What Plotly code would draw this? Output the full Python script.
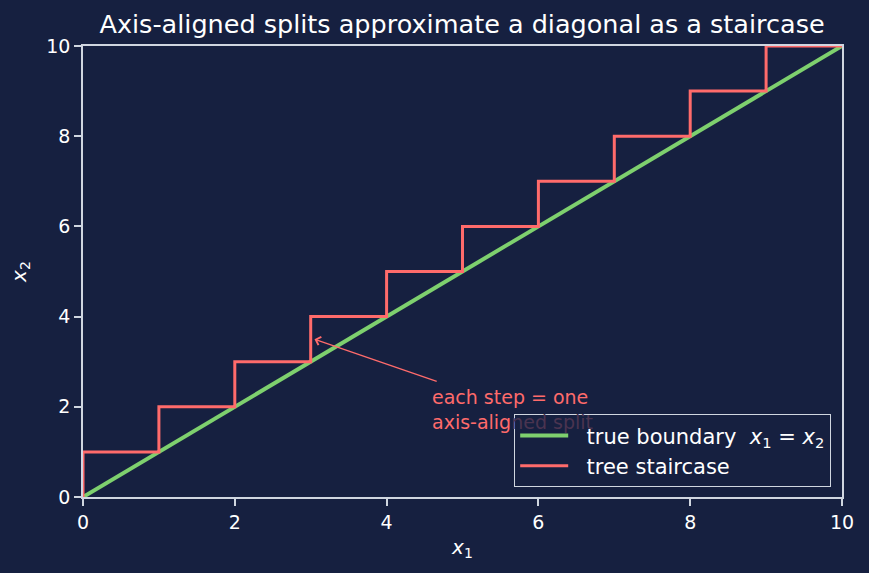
import plotly.graph_objects as go

# Data
diag_x = [0, 10]
diag_y = [0, 10]
stair_x = [0, 0, 1, 1, 2, 2, 3, 3, 4, 4, 5, 5, 6, 6, 7, 7, 8, 8, 9, 9, 10]
stair_y = [0, 1, 1, 2, 2, 3, 3, 4, 4, 5, 5, 6, 6, 7, 7, 8, 8, 9, 9, 10, 10]
tick_vals = [0, 2, 4, 6, 8, 10]
arrow_head = (3.05, 3.5)
arrow_tail = (4.68, 2.55)
note_pos = (4.575, 2.5)

BG = "#162040"
FG = "#ffffff"
SPINE = "#d0d6e0"
RED = "#ff6b6b"
RED_DIM = "#4a3450"
GREEN = "#7ed06e"
FONT = "DejaVu Sans"
PAD = "\u00a0\u00a0"

fig = go.Figure()
fig.add_trace(go.Scatter(x=diag_x, y=diag_y, mode="lines",
                         line=dict(color=GREEN, width=4),
                         name=PAD + "true boundary  <i>x</i><sub>1</sub> = <i>x</i><sub>2</sub>"))
fig.add_trace(go.Scatter(x=stair_x, y=stair_y, mode="lines",
                         line=dict(color=RED, width=3),
                         name=PAD + "tree staircase"))

fig.add_annotation(x=arrow_head[0], y=arrow_head[1], ax=arrow_tail[0], ay=arrow_tail[1],
                   axref="x", ayref="y", xref="x", yref="y", text="",
                   showarrow=True, arrowhead=4, arrowsize=1.3, arrowwidth=1.3,
                   arrowcolor=RED)
fig.add_annotation(x=note_pos[0], y=note_pos[1], xref="x", yref="y",
                   text=("each step = one<br>axis-alig"
                         f"<span style='color:{RED_DIM}'>ned split</span>"),
                   showarrow=False,
                   xanchor="left", yanchor="top", align="left",
                   font=dict(family=FONT, size=19, color=RED))

axis_common = dict(range=[0, 10], tickvals=tick_vals, showgrid=False, zeroline=False,
                   showline=True, linecolor=SPINE, linewidth=1.5, mirror=True,
                   ticks="outside", ticklen=7, tickwidth=1.5, tickcolor=SPINE,
                   tickfont=dict(family=FONT, size=19, color=FG))
fig.update_xaxes(**axis_common,
                 title=dict(text="<i>x</i><sub>1</sub>", font=dict(family=FONT, size=20, color=FG),
                            standoff=8))
fig.update_yaxes(**axis_common,
                 title=dict(text="<i>x</i><sub>2</sub>", font=dict(family=FONT, size=20, color=FG),
                            standoff=14))

fig.update_layout(
    width=869, height=573,
    paper_bgcolor=BG, plot_bgcolor=BG,
    margin=dict(l=83, r=27, t=46, b=76),
    font=dict(family=FONT, color=FG),
    title=dict(text="Axis-aligned splits approximate a diagonal as a staircase",
               x=0.5317, xanchor="center", y=0.958, yanchor="middle",
               font=dict(family=FONT, size=25.5, color=FG)),
    legend=dict(x=0.9855, y=0.022, xanchor="right", yanchor="bottom",
                bgcolor=BG, bordercolor=SPINE, borderwidth=1.2, itemwidth=48,
                font=dict(family=FONT, size=21, color=FG)),
)

fig.write_html("out.html")
